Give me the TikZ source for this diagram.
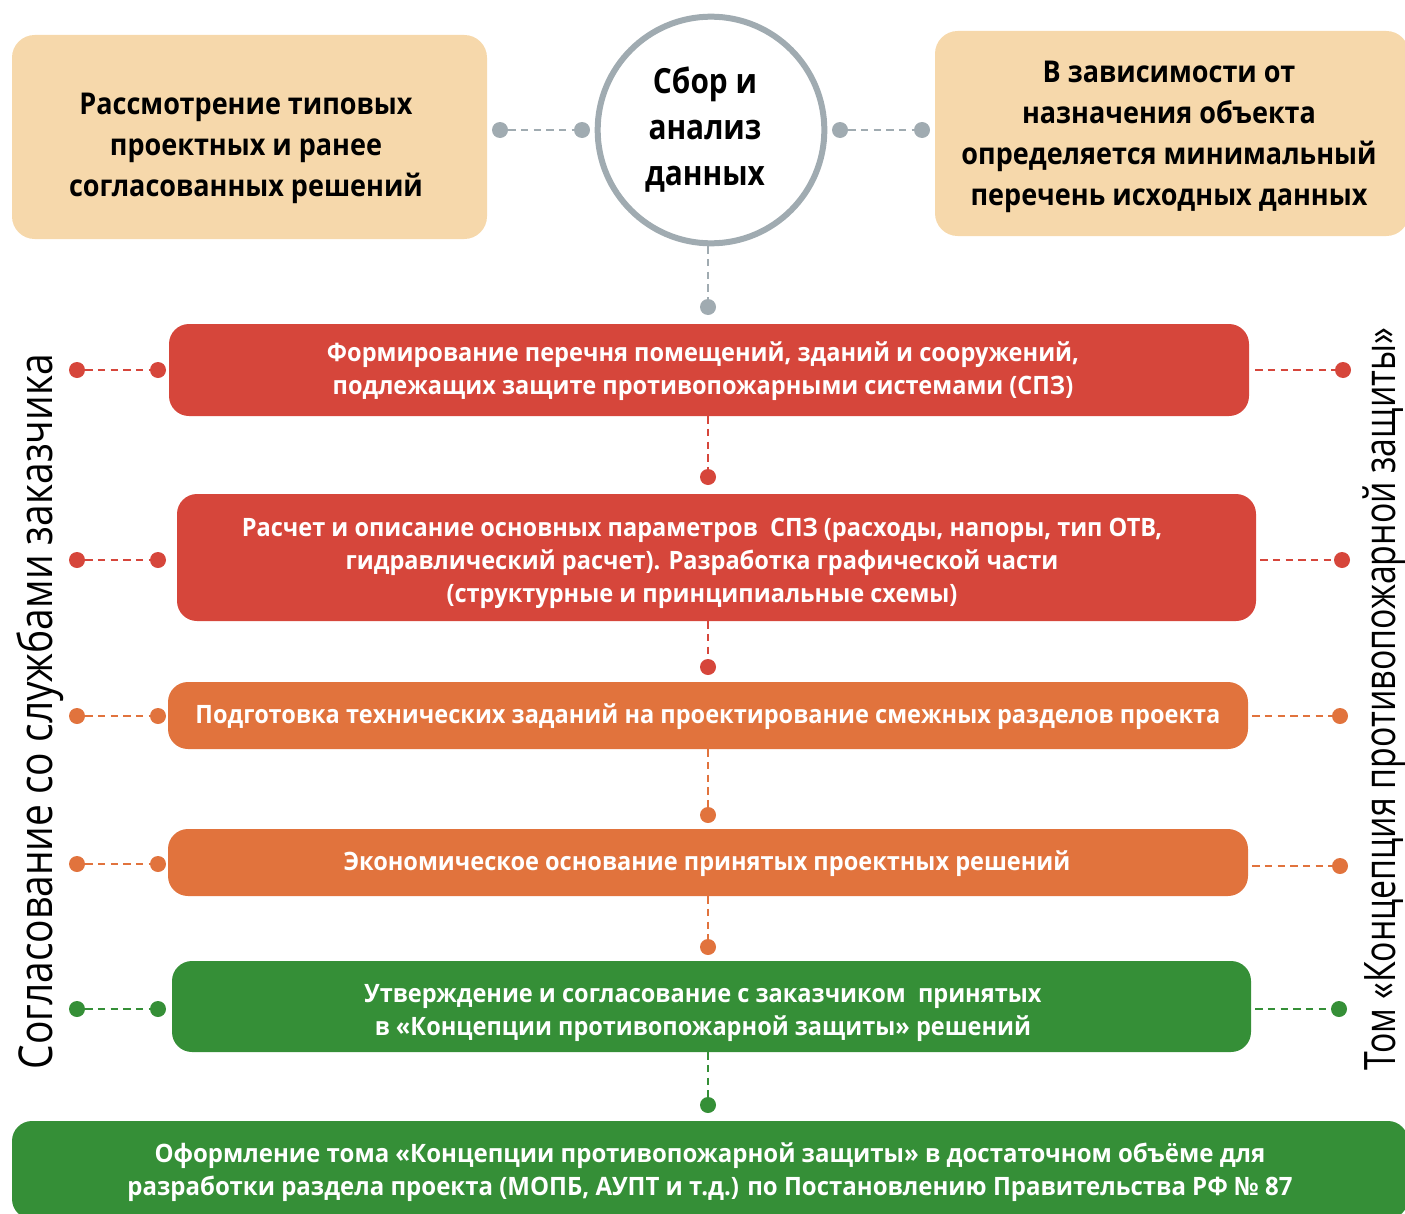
\documentclass[tikz,border=0pt]{standalone}
\usepackage{fontspec}
\setmainfont{Open Sans}
\newfontfamily\cndtop[FakeStretch=0.9]{Open Sans}
\newfontfamily\cndcirc[FakeStretch=0.86]{Open Sans}
\newfontfamily\cndstep[FakeStretch=0.93]{Open Sans}
\newfontfamily\cndbot[FakeStretch=0.947]{Open Sans}
\newfontfamily\cndvl[FakeStretch=0.834]{Open Sans}
\newfontfamily\cndvr[FakeStretch=0.78]{Open Sans}
\definecolor{peach}{HTML}{F6D8AB}
\definecolor{cred}{HTML}{D6463B}
\definecolor{corange}{HTML}{E1733D}
\definecolor{cgreen}{HTML}{358F37}
\definecolor{cgray}{HTML}{A0ABB1}
\begin{document}
\begin{tikzpicture}[x=0.75pt,y=-0.75pt,
  topbox/.style={fill=peach,rounded corners=17pt,inner sep=0pt},
  toptext/.style={align=center,inner sep=0pt,
    font=\cndtop\bfseries\fontsize{22.5}{30.75}\selectfont,text=black},
  stepbox/.style={rounded corners=15pt,inner sep=0pt,minimum width=810pt},
  steptext/.style={align=center,inner sep=0pt,
    font=\cndstep\bfseries\fontsize{19}{24.75}\selectfont,text=white},
  dot/.style={circle,fill=#1,inner sep=0pt,minimum size=12pt},
  dashline/.style={draw=#1,line width=1.4pt,dash pattern=on 5.5pt off 4pt}
]
\useasboundingbox (0,0) rectangle (1405,1213);

% top row
\node[topbox,minimum width=356.25pt,minimum height=153pt] (tl) at (249.5,137) {};
\node[toptext] (tlt) at (246,148)
  {Рассмотрение типовых\\проектных и ранее\\согласованных решений};
\node[topbox,minimum width=355.5pt,minimum height=153.75pt] (tr) at (1172,133.5) {};
\node[toptext] (trt) at (1169,136.5)
  {В зависимости от\\назначения объекта\\определяется минимальный\\перечень исходных данных};
\node[circle,draw=cgray,line width=4.5pt,fill=white,minimum size=170pt,inner sep=0pt] (circ) at (711,130) {};
\node[align=center,inner sep=0pt,font=\cndcirc\bfseries\fontsize{26}{34.5}\selectfont] (circt) at (705,130)
  {Сбор и\\анализ\\данных};

\node[dot=cgray] (ga) at (500,130) {};
\node[dot=cgray] (gb) at (582,130) {};
\node[dot=cgray] (gc) at (840,130) {};
\node[dot=cgray] (gd) at (922,130) {};
\node[dot=cgray] (g0) at (708,307) {};
\draw[dashline=cgray] (ga) -- (gb);
\draw[dashline=cgray] (gc) -- (gd);
\draw[dashline=cgray] (circ.south -| g0) -- (g0);

% step boxes
\node[stepbox,fill=cred,minimum height=69pt] (b1) at (709,370) {};
\node[steptext] (b1t) at (703,371)
  {Формирование перечня помещений, зданий и сооружений,\\подлежащих защите противопожарными системами (СПЗ)};
\node[stepbox,fill=cred,minimum width=809.25pt,minimum height=95.25pt] (b2) at (716.5,557.5) {};
\node[steptext] (b2t) at (702,563)
  {Расчет и описание основных параметров\ \ СПЗ (расходы, напоры, тип ОТВ,\\гидравлический расчет). Разработка графической части\\(структурные и принципиальные схемы)};
\node[stepbox,fill=corange,minimum height=50.25pt] (b3) at (708,715.5) {};
\node[steptext] (b3t) at (708,716.5)
  {Подготовка технических заданий на проектирование смежных разделов проекта};
\node[stepbox,fill=corange,minimum height=50.25pt] (b4) at (708,862.5) {};
\node[steptext] (b4t) at (707,863.5)
  {Экономическое основание принятых проектных решений};
\node[stepbox,fill=cgreen,minimum width=809.25pt,minimum height=68.25pt] (b5) at (711.5,1006.5) {};
\node[steptext] (b5t) at (703,1012.5)
  {Утверждение и согласование с заказчиком\ \ принятых\\в «Концепции противопожарной защиты» решений};
\node[stepbox,fill=cgreen,minimum width=1047pt,minimum height=73.5pt] (b6) at (710,1170) {};
\node[steptext,font=\cndbot\bfseries\fontsize{19}{24.75}\selectfont] (b6t) at (710,1172)
  {Оформление тома «Концепции противопожарной защиты» в достаточном объёме для\\разработки раздела проекта (МОПБ, АУПТ и т.д.) по Постановлению Правительства РФ № 87};

% vertical chain
\node[dot=cred] (d1) at (708,477) {};
\node[dot=cred] (d2) at (708,667) {};
\node[dot=corange] (d3) at (708,815) {};
\node[dot=corange] (d4) at (708,947) {};
\node[dot=cgreen] (d5) at (708,1105) {};
\draw[dashline=cred] (b1.south -| d1) -- (d1);
\draw[dashline=cred] (b2.south -| d2) -- (d2);
\draw[dashline=corange] (b3.south -| d3) -- (d3);
\draw[dashline=corange] (b4.south -| d4) -- (d4);
\draw[dashline=cgreen] (b5.south -| d5) -- (d5);

% left side connectors
\foreach \n/\y/\c in {1/370/cred,2/560/cred,3/716/corange,4/864/corange,5/1009/cgreen}{
  \node[dot=\c] (lo\n) at (77,\y) {};
  \node[dot=\c] (li\n) at (158,\y) {};
  \draw[dashline=\c] (lo\n) -- (li\n);
}
% right side connectors
\node[dot=cred] (r1) at (1343,370) {};
\node[dot=cred] (r2) at (1342,560) {};
\node[dot=corange] (r3) at (1340,716) {};
\node[dot=corange] (r4) at (1340,866) {};
\node[dot=cgreen] (r5) at (1339,1009) {};
\draw[dashline=cred] ([xshift=4.5pt]r1 -| b1.east) -- (r1);
\draw[dashline=cred] ([xshift=3pt]r2 -| b2.east) -- (r2);
\draw[dashline=corange] ([xshift=3pt]r3 -| b3.east) -- (r3);
\draw[dashline=corange] ([xshift=3pt]r4 -| b4.east) -- (r4);
\draw[dashline=cgreen] ([xshift=3pt]r5 -| b5.east) -- (r5);

% vertical texts
\node[rotate=90,inner sep=0pt,font=\cndvl\fontsize{35}{40}\selectfont] (vl) at (40,711.5)
  {Согласование со службами заказчика};
\node[rotate=90,inner sep=0pt,font=\cndvr\fontsize{32.5}{38}\selectfont] (vr) at (1384,699)
  {Том «Концепция противопожарной защиты»};
\end{tikzpicture}
\end{document}
